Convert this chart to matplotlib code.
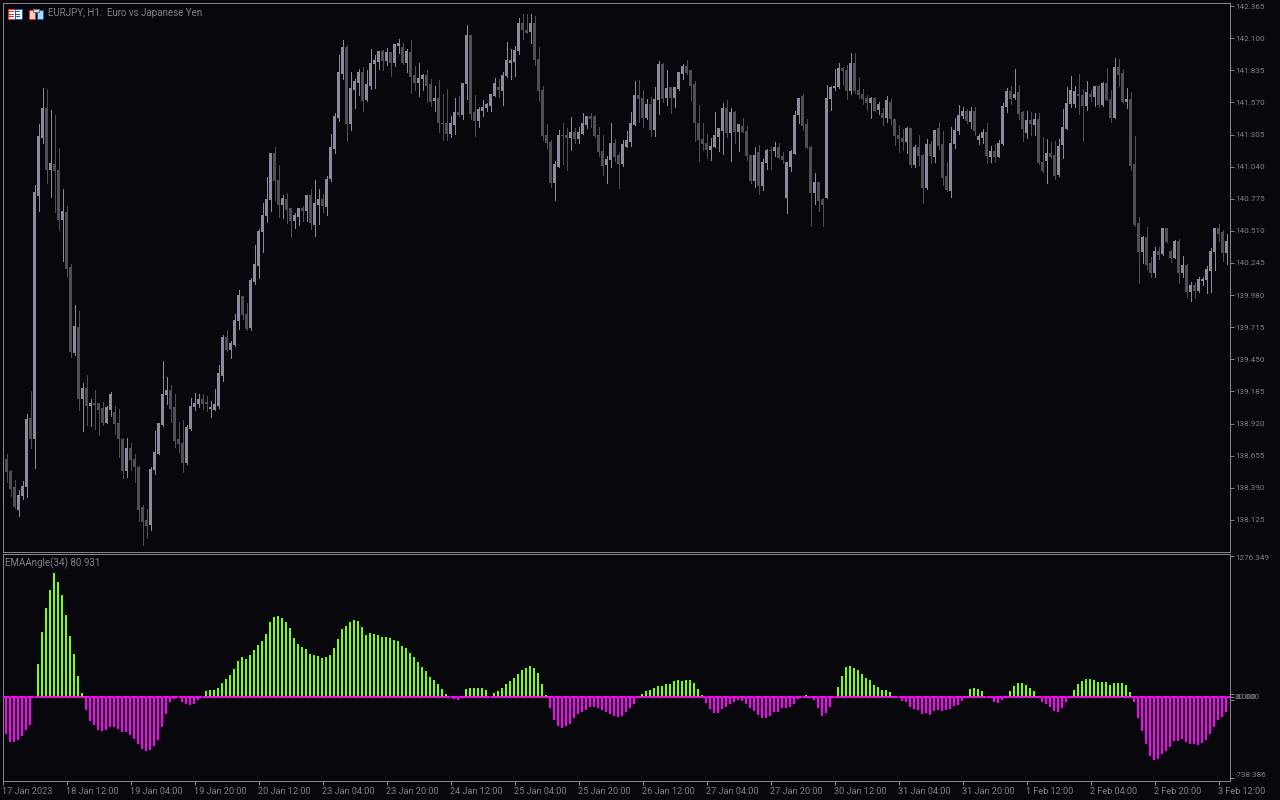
import numpy as np
import matplotlib
matplotlib.use("Agg")
import matplotlib.pyplot as plt
from matplotlib.patches import Rectangle

#CHART DATA
opens = [
 138.274,138.620,138.529,138.389,138.207,138.323,138.397,138.966,138.793,140.798,
 141.276,141.516,141.012,141.054,141.012,140.600,140.658,140.204,139.503,139.717,
 139.123,139.206,139.065,139.082,139.082,139.041,138.925,139.032,139.008,138.925,
 138.793,138.529,138.711,138.628,138.562,138.224,138.117,138.084,138.538,138.670,
 138.909,139.156,139.197,139.049,138.793,138.760,138.595,138.876,139.057,139.082,
 139.123,139.098,139.041,139.032,139.065,139.313,139.627,139.527,139.569,139.767,
 139.965,139.824,139.709,140.089,140.221,140.501,140.633,140.765,141.145,140.922,
 140.724,140.773,140.691,140.592,140.625,140.691,140.674,140.798,140.559,140.724,
 140.773,140.707,140.938,141.186,141.441,141.805,142.027,141.392,141.672,141.730,
 141.813,141.590,141.705,141.887,141.904,141.994,141.912,141.978,141.895,142.035,
 142.027,141.895,141.978,141.788,141.730,141.763,141.788,141.714,141.582,141.606,
 141.400,141.400,141.309,141.384,141.483,141.466,141.722,142.118,141.483,141.417,
 141.499,141.524,141.540,141.623,141.697,141.664,141.788,141.895,141.904,141.994,
 142.225,142.167,142.151,142.217,141.928,141.672,141.301,141.243,140.905,141.037,
 141.301,141.293,141.276,141.318,141.268,141.309,141.384,141.450,141.450,141.293,
 141.169,141.054,141.095,141.235,141.128,141.062,141.202,141.243,141.384,141.623,
 141.606,141.441,141.549,141.342,141.590,141.879,141.606,141.689,141.606,141.681,
 141.805,141.870,141.837,141.714,141.400,141.268,141.235,141.177,141.202,141.285,
 141.334,141.516,141.318,141.483,141.326,141.375,141.334,141.136,140.922,141.153,
 140.880,141.070,141.177,141.169,141.202,141.120,140.781,141.037,141.145,141.466,
 141.615,141.384,141.202,140.823,140.913,140.765,140.781,141.598,141.689,141.697,
 141.846,141.837,141.664,141.887,141.672,141.639,141.606,141.565,141.606,141.508,
 141.475,141.441,141.573,141.433,141.293,141.276,141.243,141.351,141.054,141.194,
 141.136,140.864,141.219,141.120,141.351,141.219,140.955,140.839,141.227,141.334,
 141.458,141.499,141.408,141.491,141.260,141.276,141.318,141.120,141.169,141.120,
 141.227,141.532,141.656,141.606,141.648,141.483,141.318,141.417,141.384,141.433,
 141.078,141.087,141.145,141.128,140.971,141.219,141.351,141.557,141.557,141.639,
 141.631,141.540,141.639,141.615,141.705,141.549,141.730,141.598,141.441,141.854,
 141.805,141.573,141.590,141.054,140.567,140.336,140.452,140.237,140.163,140.344,
 140.320,140.526,140.336,140.287,140.419,140.163,140.221,140.006,140.056,140.014,
 140.097,140.105,140.179,140.336,140.526,140.493,140.328]
highs = [
 138.637,138.670,138.538,138.455,138.373,138.447,138.999,139.189,140.889,141.392,
 141.689,141.681,141.508,141.466,141.194,140.856,140.715,140.237,139.899,139.849,
 139.255,139.321,139.123,139.197,139.090,139.098,139.065,139.181,139.065,139.041,
 138.801,138.801,138.760,138.670,138.570,138.249,138.216,138.562,138.859,138.917,
 139.437,139.305,139.239,139.164,138.933,138.950,138.909,139.131,139.173,139.164,
 139.164,139.148,139.107,139.206,139.404,139.651,139.692,139.602,139.824,140.022,
 139.973,139.915,140.121,140.394,140.526,140.740,140.955,141.153,141.202,141.054,
 140.806,140.823,140.691,140.658,140.691,140.715,140.806,140.856,140.930,140.856,
 140.815,140.963,141.309,141.483,141.961,142.085,142.044,141.821,141.763,141.846,
 141.862,141.837,142.011,141.961,141.994,142.002,142.019,141.978,142.044,142.093,
 142.060,142.011,142.085,141.870,141.895,141.805,141.837,141.763,141.705,141.755,
 141.639,141.681,141.458,141.606,141.623,141.730,142.209,142.118,141.631,141.532,
 141.590,141.565,141.639,141.771,141.763,141.821,142.068,142.011,142.035,142.266,
 142.299,142.299,142.299,142.283,142.027,141.705,141.392,141.260,141.087,141.342,
 141.400,141.359,141.450,141.359,141.367,141.483,141.458,141.483,141.466,141.367,
 141.301,141.128,141.400,141.268,141.153,141.260,141.334,141.491,141.747,141.755,
 141.672,141.598,141.615,141.697,141.912,141.895,141.837,141.689,141.697,141.813,
 141.887,141.920,141.837,141.747,141.549,141.400,141.309,141.276,141.491,141.359,
 141.565,141.590,141.524,141.499,141.384,141.441,141.375,141.136,141.202,141.219,
 141.103,141.186,141.202,141.243,141.235,141.161,141.078,141.177,141.499,141.606,
 141.639,141.433,141.210,140.988,140.913,140.781,141.714,141.705,141.846,141.895,
 141.862,141.879,141.978,141.978,141.780,141.681,141.631,141.615,141.615,141.573,
 141.524,141.623,141.598,141.433,141.384,141.351,141.367,141.359,141.219,141.301,
 141.145,141.268,141.252,141.342,141.408,141.334,141.078,141.367,141.441,141.549,
 141.532,141.516,141.532,141.532,141.309,141.351,141.400,141.210,141.227,141.260,
 141.565,141.689,141.705,141.846,141.714,141.499,141.499,141.491,141.483,141.483,
 141.285,141.268,141.243,141.252,141.268,141.516,141.697,141.788,141.705,141.805,
 141.681,141.747,141.672,141.705,141.714,141.739,141.854,141.672,141.937,141.928,
 141.846,141.689,141.656,141.293,140.625,140.468,140.542,140.295,140.377,140.377,
 140.526,140.526,140.353,140.435,140.443,140.303,140.237,140.089,140.080,140.130,
 140.130,140.221,140.369,140.534,140.567,140.518,140.485]
lows = [
 138.274,138.439,138.323,138.224,138.158,138.298,138.315,138.719,138.554,140.674,
 141.235,140.905,140.790,140.666,140.518,140.262,140.138,139.470,139.486,139.032,
 138.859,138.909,138.901,138.876,138.826,138.909,138.925,138.983,138.834,138.645,
 138.471,138.480,138.538,138.439,138.117,137.919,137.977,138.043,138.505,138.670,
 138.901,139.082,138.933,138.727,138.686,138.521,138.587,138.868,139.032,139.057,
 139.041,139.024,138.975,139.032,139.049,139.272,139.519,139.461,139.560,139.701,
 139.783,139.692,139.692,140.072,140.121,140.336,140.584,140.674,140.765,140.625,
 140.616,140.575,140.460,140.534,140.559,140.592,140.592,140.526,140.468,140.567,
 140.666,140.641,140.922,141.153,141.417,141.763,141.252,141.342,141.524,141.631,
 141.499,141.582,141.681,141.689,141.846,141.837,141.879,141.788,141.870,141.978,
 141.887,141.821,141.648,141.672,141.623,141.672,141.573,141.540,141.499,141.326,
 141.260,141.260,141.285,141.309,141.458,141.433,141.598,141.433,141.293,141.367,
 141.458,141.499,141.499,141.623,141.615,141.549,141.780,141.763,141.788,141.970,
 142.093,142.143,142.060,141.879,141.582,141.260,141.194,140.872,140.765,141.037,
 141.062,141.012,141.177,141.235,141.235,141.309,141.359,141.367,141.285,141.128,
 140.971,140.905,141.037,141.087,140.864,141.045,141.202,141.210,141.384,141.408,
 141.367,141.433,141.293,141.293,141.475,141.573,141.549,141.483,141.532,141.672,
 141.763,141.805,141.590,141.252,141.087,141.177,141.112,141.095,141.202,141.169,
 141.145,141.285,141.087,141.235,141.169,141.326,141.095,140.905,140.872,140.814,
 140.848,141.021,141.021,141.128,141.112,141.070,140.658,141.004,141.145,141.400,
 141.342,141.194,140.550,140.732,140.674,140.550,140.781,141.508,141.672,141.689,
 141.714,141.598,141.639,141.648,141.606,141.557,141.508,141.441,141.499,141.475,
 141.384,141.408,141.392,141.219,141.161,141.177,141.153,141.037,141.037,141.054,
 140.740,140.856,141.070,141.078,141.186,140.889,140.839,140.790,141.194,141.309,
 141.441,141.400,141.359,141.301,141.227,141.235,141.070,141.078,141.078,141.120,
 141.219,141.491,141.557,141.598,141.433,141.252,141.276,141.301,141.301,141.062,
 140.996,140.905,141.112,140.938,140.963,141.112,141.351,141.532,141.532,141.475,
 141.252,141.508,141.582,141.540,141.532,141.540,141.590,141.408,141.441,141.705,
 141.565,141.524,141.012,140.550,140.080,140.245,140.196,140.130,140.130,140.278,
 140.311,140.419,140.254,140.287,140.080,140.130,139.965,139.932,139.957,140.006,
 140.064,139.998,140.006,140.188,140.427,140.262,140.237]
closes = [
 138.620,138.521,138.381,138.232,138.331,138.405,138.958,138.793,140.823,141.285,
 141.516,141.012,141.062,141.004,140.600,140.666,140.196,139.511,139.725,139.123,
 139.206,139.065,139.090,139.074,139.032,138.925,139.049,139.164,138.917,138.793,
 138.529,138.711,138.620,138.562,138.207,138.109,138.076,138.538,138.678,138.917,
 139.164,139.197,139.041,138.777,138.752,138.595,138.884,139.065,139.090,139.123,
 139.082,139.082,139.057,139.074,139.330,139.627,139.527,139.577,139.767,139.973,
 139.816,139.701,140.097,140.229,140.509,140.641,140.773,141.145,140.922,140.724,
 140.781,140.683,140.592,140.633,140.691,140.674,140.798,140.575,140.732,140.773,
 140.715,140.938,141.194,141.450,141.813,142.027,141.392,141.681,141.739,141.813,
 141.582,141.714,141.895,141.912,141.994,141.912,141.978,141.895,142.044,142.060,
 141.895,141.986,141.780,141.730,141.771,141.788,141.705,141.573,141.606,141.400,
 141.392,141.309,141.392,141.483,141.466,141.730,142.118,141.475,141.417,141.508,
 141.532,141.549,141.639,141.730,141.672,141.796,141.912,141.912,142.002,142.225,
 142.167,142.143,142.217,141.920,141.664,141.293,141.235,140.905,141.054,141.301,
 141.293,141.276,141.318,141.268,141.318,141.392,141.450,141.433,141.293,141.161,
 141.045,141.095,141.235,141.120,141.062,141.219,141.252,141.392,141.623,141.598,
 141.441,141.549,141.342,141.598,141.879,141.598,141.681,141.606,141.689,141.813,
 141.870,141.813,141.705,141.400,141.260,141.227,141.177,141.210,141.293,141.351,
 141.516,141.318,141.483,141.326,141.384,141.326,141.128,140.922,141.128,140.880,
 141.078,141.177,141.169,141.194,141.112,141.095,141.078,141.161,141.466,141.606,
 141.375,141.194,140.823,140.913,140.757,140.724,141.606,141.697,141.705,141.846,
 141.829,141.664,141.887,141.664,141.631,141.598,141.565,141.606,141.499,141.549,
 141.441,141.582,141.433,141.293,141.268,141.243,141.351,141.054,141.194,141.128,
 140.864,141.219,141.128,141.342,141.210,140.947,140.848,141.227,141.342,141.466,
 141.499,141.417,141.491,141.334,141.285,141.318,141.128,141.169,141.120,141.235,
 141.540,141.656,141.598,141.639,141.475,141.351,141.417,141.392,141.433,141.070,
 141.004,141.145,141.120,140.963,141.210,141.367,141.565,141.672,141.656,141.623,
 141.540,141.648,141.615,141.705,141.549,141.730,141.590,141.441,141.854,141.796,
 141.573,141.590,141.045,140.559,140.336,140.452,140.229,140.163,140.344,140.311,
 140.526,140.419,140.287,140.419,140.163,140.221,140.006,140.056,140.014,140.105,
 140.113,140.188,140.344,140.526,140.485,140.328,140.419]
ema_angle = [
 0,-340,-413,-413,-389,-359,-304,-258,0,298,
 590,809,973,1128,1046,927,745,553,389,188,
 33,-122,-222,-258,-304,-313,-304,-277,-277,-295,
 -322,-322,-350,-386,-432,-477,-496,-486,-450,-395,
 -277,-158,-49,-21,0,-49,-67,-76,-67,-30,
 0,52,61,61,79,125,161,198,252,325,
 362,344,380,426,471,508,572,681,727,736,
 717,681,626,535,480,453,435,389,380,371,
 353,362,380,444,526,617,644,681,699,690,
 635,562,581,572,562,544,544,535,517,508,
 462,444,398,362,316,271,234,179,152,116,
 70,24,-3,-18,-30,0,70,79,79,79,
 79,61,0,33,52,79,116,143,170,207,
 243,261,280,261,216,116,15,-103,-213,-268,
 -286,-268,-249,-195,-158,-140,-122,-94,-94,-103,
 -122,-140,-158,-176,-185,-176,-140,-103,-67,0,
 24,52,61,79,97,97,116,116,143,152,
 143,152,152,125,70,15,-58,-112,-149,-149,
 -112,-94,-67,-49,-30,-40,-67,-103,-131,-167,
 -195,-195,-176,-140,-140,-103,-103,-94,-67,-21,
 0,15,-12,-30,-103,-176,-149,-94,-9,88,
 188,271,280,261,243,207,170,152,106,88,
 61,61,43,6,0,-40,-49,-94,-112,-122,
 -158,-149,-167,-131,-122,-131,-122,-112,-85,-76,
 -40,0,70,79,70,52,0,0,-49,-58,
 -30,0,52,97,125,125,106,79,52,6,
 -49,-67,-94,-131,-140,-103,-49,0,61,116,
 143,161,161,152,134,134,134,106,125,125,
 125,106,43,-49,-195,-313,-432,-541,-578,-568,
 -523,-496,-459,-404,-404,-386,-413,-432,-432,-441,
 -423,-395,-340,-277,-213,-185,-140]

price_ticks = [142.365,142.100,141.835,141.570,141.305,141.040,140.775,140.510,140.245,
               139.980,139.715,139.450,139.185,138.920,138.655,138.390,138.125]
date_labels = ["17 Jan 2023","18 Jan 12:00","19 Jan 04:00","19 Jan 20:00","20 Jan 12:00",
               "23 Jan 04:00","23 Jan 20:00","24 Jan 12:00","25 Jan 04:00","25 Jan 20:00",
               "26 Jan 12:00","27 Jan 04:00","27 Jan 20:00","30 Jan 12:00","31 Jan 04:00",
               "31 Jan 20:00","1 Feb 12:00","2 Feb 04:00","2 Feb 20:00","3 Feb 12:00"]

#COLOURS
bg = "#07070c"
frame = "#85858a"
txt = "#808086"
up = "#8b8b9b"
down = "#505054"
green = "#7fff00"
magenta = "#ff00ff"
W, H = 1280, 800
fs = 6.6
side_fs = 5.9
head_fs = 7.0

plt.rcParams["font.family"] = ["Roboto", "DejaVu Sans"]
fig = plt.figure(figsize=(W / 100, H / 100), dpi=100, facecolor=bg)

def box(left, top, right, bottom):
    return [left / W, 1 - bottom / H, (right - left) / W, (bottom - top) / H]

ax = fig.add_axes(box(2.5, 2.5, 1229.5, 551.5), facecolor=bg)
ax2 = fig.add_axes(box(2.5, 553.5, 1229.5, 780.5), facecolor=bg)

#candles
idx = np.arange(len(closes))
o, h, l, c = [np.array(a) for a in (opens, highs, lows, closes)]
is_up = c >= o
cols = [up if u else down for u in is_up]
ax.vlines(idx, l, h, colors=cols, lw=0.72, antialiased=False, zorder=2)
ax.bar(idx, np.abs(c - o) + 0.004, bottom=np.minimum(o, c), width=0.75, color=cols,
       linewidth=0, antialiased=False, zorder=3)
ax.set_xlim(0, 306.75)
ax.set_ylim(137.865, 142.394)
ax.set_xticks([])
ax.yaxis.tick_right()
ax.set_yticks(price_ticks, ["%.3f" % p for p in price_ticks])

#histogram
vals = np.array(ema_angle)
bar_cols = [green if v > 0 else magenta for v in vals]
ax2.bar(idx - 0.125, vals, width=0.5, color=bar_cols, linewidth=0, antialiased=False, zorder=2)
ax2.hlines(0, 0, 306.75, colors=magenta, lw=1.44, linestyles=(0, (3, 1)), antialiased=False, zorder=3)
ax2.set_xlim(0, 306.75)
ax2.set_ylim(-761, 1303)
ax2.yaxis.tick_right()
ax2.set_yticks([1276.349, 30, 0, -30, -738.386], [""] * 5)
ax2.set_xticks(np.arange(len(date_labels)) * 16, date_labels)
for t in ax2.get_xticklabels():
    t.set_ha("left")

for a in (ax, ax2):
    for s in a.spines.values():
        s.set_color(frame)
        s.set_linewidth(0.72)
    a.tick_params(axis="both", colors=frame, labelcolor=txt, labelsize=fs, length=2.9, width=0.72, pad=1.5)
    a.tick_params(axis="y", labelsize=side_fs, pad=1)

#overlay in picture pixels for the header texts, side labels and the two icons
top = fig.add_axes([0, 0, 1, 1], facecolor="none")
top.set_xlim(0, W)
top.set_ylim(H, 0)
top.axis("off")
top.text(48, 13.5, "EURJPY, H1:  Euro vs Japanese Yen", color=txt, fontsize=head_fs, va="center")
top.text(5, 563, "EMAAngle(34) 80.931", color=txt, fontsize=head_fs, va="center")
for label, y in (("1276.349", 558), ("30.000", 696.7), ("0.000", 697), ("-738.386", 775)):
    top.text(1235, y, label, color=txt, fontsize=side_fs, va="center")

def icon_part(x, y, w, hh, face, edge):
    top.add_patch(Rectangle((x, y), w, hh, facecolor=face, edgecolor=edge, lw=0.72, antialiased=False))

#first icon, a little table
icon_part(7.5, 8.5, 7, 10, "white", "#e03030")
icon_part(14.5, 8.5, 7, 10, "white", "#1060b0")
for y in (11, 13.5, 16):
    top.add_patch(Rectangle((9, y), 5, 1, color="#e03030", lw=0, antialiased=False))
    top.add_patch(Rectangle((15, y), 5, 1, color="#1060b0", lw=0, antialiased=False))
#second icon
icon_part(28.5, 9.5, 6, 9, "#ffd0c8", "#e03030")
icon_part(36.5, 9.5, 6, 9, "#a8dcff", "#1060b0")
icon_part(32.5, 8.5, 6, 3, "#d8d8d8", "#707070")

fig.savefig("out.png", dpi=100, facecolor=bg)
